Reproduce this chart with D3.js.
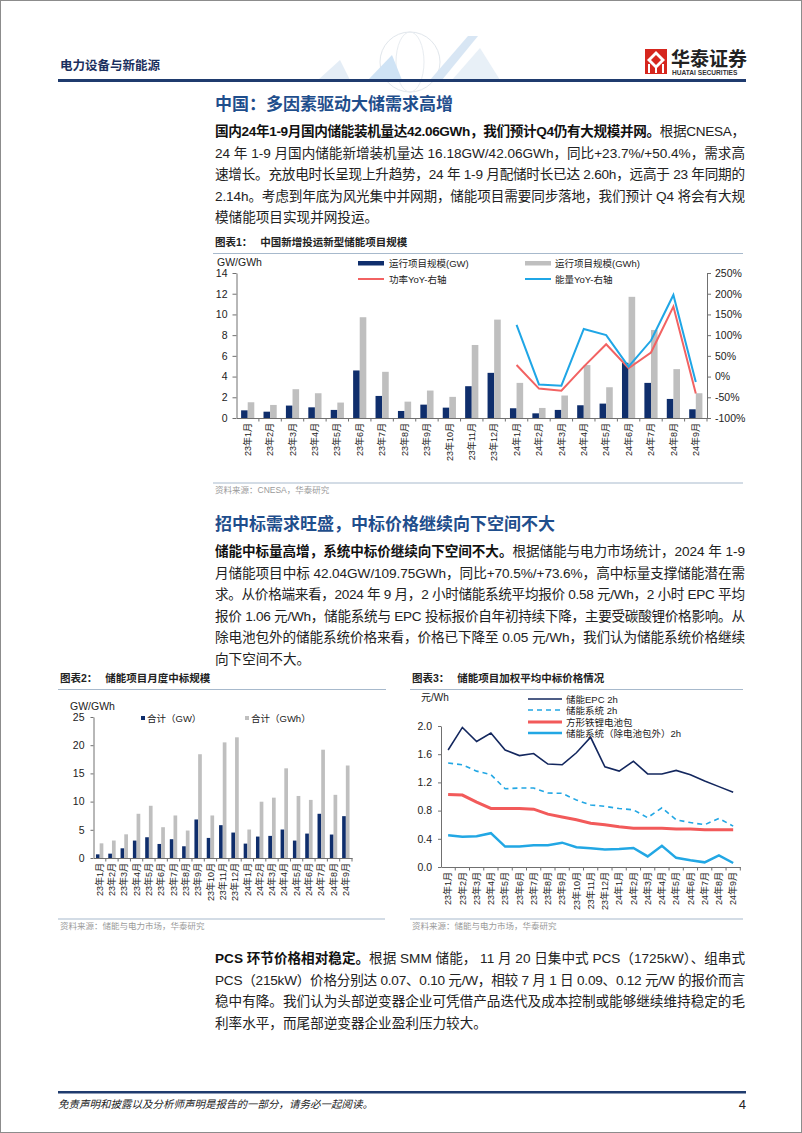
<!DOCTYPE html>
<html><head><meta charset="utf-8">
<script src="https://cdn.jsdelivr.net/npm/d3@7"></script>
<style>
body{margin:0;background:#fff;}
text{font-family:"Liberation Sans","Noto Sans CJK SC",sans-serif;}
</style></head>
<body><svg id="page" width="802" height="1133"></svg>
<script>
// ---------- DATA ----------
const months = ["23年1月","23年2月","23年3月","23年4月","23年5月","23年6月","23年7月","23年8月","23年9月","23年10月","23年11月","23年12月",
                "24年1月","24年2月","24年3月","24年4月","24年5月","24年6月","24年7月","24年8月","24年9月"];
// Chart 1: 中国新增投运新型储能项目规模
const c1PowerGW   = [0.74,0.61,1.20,1.03,0.78,4.59,2.13,0.68,1.29,1.00,3.07,4.36, 0.94,0.45,0.78,1.23,1.39,5.33,3.39,1.84,0.84];
const c1EnergyGWh = [1.52,1.26,2.78,2.39,1.49,9.73,4.46,1.58,2.65,2.04,7.05,9.50, 3.39,0.97,2.17,5.11,2.97,11.70,8.50,4.72,2.39];
const c1PowerYoY  = [null,null,null,null,null,null,null,null,null,null,null,null, 28,-29,-34,24,78,20,58,169,-41];
const c1EnergyYoY = [null,null,null,null,null,null,null,null,null,null,null,null, 125,-19,-22,115,100,24,87,197,-13];
const c1LeftTicks  = [0,2,4,6,8,10,12,14];
const c1RightTicks = [-100,-50,0,50,100,150,200,250];
// Chart 2: 储能项目月度中标规模
const c2GW  = [0.65,0.77,1.72,3.09,3.68,2.49,3.33,2.08,6.83,3.56,5.82,4.51, 2.55,3.80,3.92,5.05,3.09,4.33,7.84,4.16,7.42];
const c2GWh = [2.6,3.1,4.2,7.84,9.26,5.46,7.54,4.87,18.4,7.54,20.5,21.4, 5.05,9.98,10.7,15.9,11.0,10.3,19.2,11.2,16.4];
const c2Ticks = [0,5,10,15,20,25];
// Chart 3: 储能项目加权平均中标价格情况
const c3EPC     = [1.66,1.98,1.78,1.90,1.66,1.58,1.61,1.46,1.45,1.62,1.84,1.42, 1.36,1.50,1.32,1.32,1.37,1.31,1.22,1.14,1.06];
const c3System  = [1.475,1.45,1.36,1.31,1.11,1.12,1.12,1.05,1.045,0.95,0.88,0.86, 0.83,0.81,0.70,0.84,0.67,0.63,0.60,0.69,0.58];
const c3Pack    = [1.03,1.02,0.92,0.83,0.83,0.83,0.82,0.75,0.71,0.67,0.62,0.60, 0.57,0.55,0.55,0.55,0.54,0.54,0.53,0.53,0.53];
const c3SysExPk = [0.45,0.43,0.435,0.48,0.29,0.29,0.31,0.31,0.345,0.28,0.265,0.25, 0.255,0.27,0.15,0.30,0.13,0.095,0.066,0.165,0.057];
const c3Ticks = [0,0.4,0.8,1.2,1.6,2.0];

// ---------- PAGE ----------
const svg = d3.select("#page");
svg.append("rect").attr("width",802).attr("height",1133).attr("fill","#fff");
svg.append("rect").attr("x",0.5).attr("y",0.5).attr("width",801).attr("height",1132).attr("fill","none").attr("stroke","#8c8c8c");

const NAVY = "#0f2e6c", GRAY = "#bfbfbf", RED = "#f26262", BLUE = "#1fa6e6", HEAD = "#1f4e8c";

// header decoration (faint globe & stripes)
const deco = svg.append("g").attr("opacity",0.55);
deco.append("circle").attr("cx",410).attr("cy",62).attr("r",30).attr("fill","none").attr("stroke","#c9d3dd").attr("stroke-width",1);
deco.append("ellipse").attr("cx",410).attr("cy",62).attr("rx",14).attr("ry",30).attr("fill","none").attr("stroke","#d5dde5");
deco.append("path").attr("d","M430,80 L468,36 L478,36 L442,80 Z").attr("fill","#b9d3ec");
deco.append("path").attr("d","M452,80 L480,48 L500,80 Z").attr("fill","#d6e4f2");
deco.append("path").attr("d","M318,80 L340,60 L350,80 Z").attr("fill","#cfe0f0");
deco.append("path").attr("d","M368,80 L392,55 L402,80 Z").attr("fill","#a9cdee");

svg.append("text").attr("x",60).attr("y",70).attr("font-size",12.5).attr("font-weight","bold").attr("fill","#1b2f5e").text("电力设备与新能源");
// logo
const logo = svg.append("g");
logo.append("rect").attr("x",645).attr("y",49).attr("width",22).attr("height",25).attr("fill","#d6261e");
logo.append("path").attr("d","M656,51 L665,60 L656,69 L647,60 Z").attr("fill","#fff");
logo.append("path").attr("d","M656,55 L661,60 L656,65 L651,60 Z").attr("fill","#d6261e");
logo.append("rect").attr("x",648).attr("y",64).attr("width",2).attr("height",9).attr("fill","#fff");
logo.append("rect").attr("x",662).attr("y",64).attr("width",2).attr("height",9).attr("fill","#fff");
logo.append("rect").attr("x",655).attr("y",67).attr("width",2).attr("height",6).attr("fill","#fff");
svg.append("text").attr("x",671).attr("y",66).attr("font-size",19).attr("font-weight","bold").attr("fill","#222").text("华泰证券");
svg.append("text").attr("x",672).attr("y",75).attr("font-size",6.6).attr("font-weight","bold").attr("fill","#333").text("HUATAI SECURITIES");
svg.append("rect").attr("x",58).attr("y",79).attr("width",688).attr("height",3).attr("fill","#1f3b6e");

// footer
svg.append("rect").attr("x",58).attr("y",1091).attr("width",688).attr("height",2.5).attr("fill","#1f3b6e");
svg.append("text").attr("x",58).attr("y",1108).attr("font-size",10.5).attr("font-style","italic").attr("fill","#222").text("免责声明和披露以及分析师声明是报告的一部分，请务必一起阅读。");
svg.append("text").attr("x",746).attr("y",1109).attr("text-anchor","end").attr("font-size",13).attr("fill","#222").text("4");

// ---------- TEXT BLOCKS ----------
function heading(x,y,t){
  svg.append("text").attr("x",x).attr("y",y).attr("font-size",17).attr("font-weight","bold").attr("fill",HEAD).text(t);
}
function para(x,y,lh,lines,width){
  lines.forEach((ln,i)=>{
    const t = svg.append("text").attr("x",x).attr("y",y+i*lh).attr("font-size",13.6).attr("fill","#222");
    if(!ln.last){ t.attr("textLength",width).attr("lengthAdjust","spacing"); }
    if(ln.b) t.append("tspan").attr("font-weight","bold").attr("fill","#111").text(ln.b);
    if(ln.t) t.append("tspan").text(ln.t);
  });
}
heading(215,110,"中国：多因素驱动大储需求高增");
para(215,136,21.6,[
  {b:"国内24年1-9月国内储能装机量达42.06GWh，我们预计Q4仍有大规模并网。",t:"根据CNESA，"},
  {t:"24 年 1-9 月国内储能新增装机量达 16.18GW/42.06GWh，同比+23.7%/+50.4%，需求高"},
  {t:"速增长。充放电时长呈现上升趋势，24 年 1-9 月配储时长已达 2.60h，远高于 23 年同期的"},
  {t:"2.14h。考虑到年底为风光集中并网期，储能项目需要同步落地，我们预计 Q4 将会有大规"},
  {t:"模储能项目实现并网投运。",last:true}
],530);

heading(215,530,"招中标需求旺盛，中标价格继续向下空间不大");
para(215,556,21.6,[
  {b:"储能中标量高增，系统中标价继续向下空间不大。",t:"根据储能与电力市场统计，2024 年 1-9"},
  {t:"月储能项目中标 42.04GW/109.75GWh，同比+70.5%/+73.6%，高中标量支撑储能潜在需"},
  {t:"求。从价格端来看，2024 年 9 月，2 小时储能系统平均报价 0.58 元/Wh，2 小时 EPC 平均"},
  {t:"报价 1.06 元/Wh，储能系统与 EPC 投标报价自年初持续下降，主要受碳酸锂价格影响。从"},
  {t:"除电池包外的储能系统价格来看，价格已下降至 0.05 元/Wh，我们认为储能系统价格继续"},
  {t:"向下空间不大。",last:true}
],530);

para(215,963,21.6,[
  {b:"PCS 环节价格相对稳定。",t:"根据 SMM 储能， 11 月 20 日集中式 PCS（1725kW）、组串式"},
  {t:"PCS（215kW）价格分别达 0.07、0.10 元/W，相较 7 月 1 日 0.09、0.12 元/W 的报价而言"},
  {t:"稳中有降。我们认为头部逆变器企业可凭借产品迭代及成本控制或能够继续维持稳定的毛"},
  {t:"利率水平，而尾部逆变器企业盈利压力较大。",last:true}
],530);

// ---------- helpers ----------
function chartTitle(x,y,x2,label,title){
  const t = svg.append("text").attr("x",x).attr("y",y).attr("font-size",10.5).attr("font-weight","bold").attr("fill","#222");
  t.append("tspan").text(label);
  t.append("tspan").attr("dx",8).text(title);
  svg.append("line").attr("x1",x-2).attr("x2",x2).attr("y1",y+7.5).attr("y2",y+7.5).attr("stroke","#a7b9cc").attr("stroke-width",1);
}
function source(x,y,x2,t){
  svg.append("line").attr("x1",x-2).attr("x2",x2).attr("y1",y-10).attr("y2",y-10).attr("stroke","#a7b9cc").attr("stroke-width",1);
  svg.append("text").attr("x",x).attr("y",y).attr("font-size",8.5).attr("fill","#9a9a9a").text(t);
}
function styleAxis(g){
  g.select(".domain").attr("stroke","#707070");
  g.selectAll(".tick line").attr("stroke","#707070");
  g.selectAll(".tick text").attr("font-size",10.5).attr("fill","#222")
   .attr("font-family","'Liberation Sans',Arial,sans-serif");
}
function xAxis(x,y0){
  const g = svg.append("g").attr("transform",`translate(0,${y0})`)
    .call(d3.axisBottom(x).tickSize(0).tickFormat(""));
  g.select(".domain").attr("stroke","#707070");
  g.selectAll(null).data(x.domain()).join("line")
    .attr("x1",d=>x(d)+x.bandwidth()).attr("x2",d=>x(d)+x.bandwidth()).attr("y1",0).attr("y2",3.5).attr("stroke","#707070");
  svg.append("g").selectAll("text").data(x.domain()).join("text")
    .attr("transform",d=>`translate(${x(d)+x.bandwidth()/2},${y0+5}) rotate(-90)`)
    .attr("text-anchor","end").attr("dy","0.35em").attr("font-size",9).attr("fill","#222").text(d=>d);
}

// ---------- CHART 1 ----------
chartTitle(215,246,743,"图表1：","中国新增投运新型储能项目规模");
{
  const x = d3.scaleBand().domain(months).range([236.5,707]).padding(0);
  const yL = d3.scaleLinear().domain([0,14]).range([418,273]);
  const yR = d3.scaleLinear().domain([-100,250]).range([418,273]);
  const bw = 6.6;
  svg.append("g").selectAll("rect").data(months).join("rect")
    .attr("x",(d,i)=>x(d)+x.bandwidth()/2-bw).attr("width",bw)
    .attr("y",(d,i)=>yL(c1PowerGW[i])).attr("height",(d,i)=>yL(0)-yL(c1PowerGW[i])).attr("fill",NAVY);
  svg.append("g").selectAll("rect").data(months).join("rect")
    .attr("x",(d,i)=>x(d)+x.bandwidth()/2).attr("width",bw)
    .attr("y",(d,i)=>yL(c1EnergyGWh[i])).attr("height",(d,i)=>yL(0)-yL(c1EnergyGWh[i])).attr("fill",GRAY);
  const line = d3.line().defined(d=>d.v!==null).x(d=>x(d.m)+x.bandwidth()/2).y(d=>yR(d.v));
  svg.append("path").datum(months.map((m,i)=>({m,v:c1PowerYoY[i]}))).attr("d",line).attr("fill","none").attr("stroke",RED).attr("stroke-width",2);
  svg.append("path").datum(months.map((m,i)=>({m,v:c1EnergyYoY[i]}))).attr("d",line).attr("fill","none").attr("stroke",BLUE).attr("stroke-width",2);
  const gl = svg.append("g").attr("transform","translate(236.5,0)")
    .call(d3.axisLeft(yL).tickValues(c1LeftTicks).tickSize(4).tickSizeOuter(0).tickPadding(5));
  styleAxis(gl);
  const gr = svg.append("g").attr("transform","translate(707,0)")
    .call(d3.axisRight(yR).tickValues(c1RightTicks).tickSize(4).tickSizeOuter(0).tickPadding(4).tickFormat(d=>d+"%"));
  styleAxis(gr);
  xAxis(x,418);
  svg.append("text").attr("x",217).attr("y",266).attr("font-size",10.5).attr("fill","#222").text("GW/GWh");
  // legend
  const lg = svg.append("g").attr("font-size",9.5).attr("fill","#222");
  lg.append("rect").attr("x",358).attr("y",261).attr("width",26).attr("height",4.5).attr("fill",NAVY);
  lg.append("text").attr("x",389).attr("y",266.5).text("运行项目规模(GW)");
  lg.append("line").attr("x1",358).attr("x2",384).attr("y1",279).attr("y2",279).attr("stroke",RED).attr("stroke-width",2);
  lg.append("text").attr("x",389).attr("y",282.5).text("功率YoY-右轴");
  lg.append("rect").attr("x",525).attr("y",261).attr("width",26).attr("height",4.5).attr("fill",GRAY);
  lg.append("text").attr("x",555).attr("y",266.5).text("运行项目规模(GWh)");
  lg.append("line").attr("x1",525).attr("x2",551).attr("y1",279).attr("y2",279).attr("stroke",BLUE).attr("stroke-width",2);
  lg.append("text").attr("x",555).attr("y",282.5).text("能量YoY-右轴");
}
source(215,493,743,"资料来源：CNESA，华泰研究");

// ---------- CHART 2 ----------
chartTitle(60,682,386,"图表2：","储能项目月度中标规模");
{
  const x = d3.scaleBand().domain(months).range([93.5,352]).padding(0);
  const y = d3.scaleLinear().domain([0,25]).range([858,717]);
  const bw = 3.7;
  svg.append("g").selectAll("rect").data(months).join("rect")
    .attr("x",d=>x(d)+x.bandwidth()/2-bw).attr("width",bw)
    .attr("y",(d,i)=>y(c2GW[i])).attr("height",(d,i)=>y(0)-y(c2GW[i])).attr("fill",NAVY);
  svg.append("g").selectAll("rect").data(months).join("rect")
    .attr("x",d=>x(d)+x.bandwidth()/2).attr("width",bw)
    .attr("y",(d,i)=>y(c2GWh[i])).attr("height",(d,i)=>y(0)-y(c2GWh[i])).attr("fill",GRAY);
  const g = svg.append("g").attr("transform","translate(93.5,0)")
    .call(d3.axisLeft(y).tickValues(c2Ticks).tickSize(3).tickSizeOuter(0).tickPadding(6));
  styleAxis(g);
  xAxis(x,858);
  svg.append("text").attr("x",70).attr("y",710).attr("font-size",10.5).attr("fill","#222").text("GW/GWh");
  const lg = svg.append("g").attr("font-size",9.5).attr("fill","#222");
  lg.append("rect").attr("x",141).attr("y",716).attr("width",4).attr("height",4).attr("fill",NAVY);
  lg.append("text").attr("x",147).attr("y",721.5).text("合计（GW）");
  lg.append("rect").attr("x",245).attr("y",716).attr("width",4).attr("height",4).attr("fill",GRAY);
  lg.append("text").attr("x",251).attr("y",721.5).text("合计（GWh）");
}
source(60,929,385,"资料来源：储能与电力市场，华泰研究");

// ---------- CHART 3 ----------
chartTitle(412,682,743,"图表3：","储能项目加权平均中标价格情况");
{
  const x = d3.scaleBand().domain(months).range([441,740.3]).padding(0);
  const y = d3.scaleLinear().domain([0,2]).range([867,726]);
  const mk = arr => d3.line().x((d,i)=>x(months[i])+x.bandwidth()/2).y(d=>y(d))(arr);
  svg.append("path").attr("d",mk(c3Pack)).attr("fill","none").attr("stroke","#f25a5a").attr("stroke-width",3);
  svg.append("path").attr("d",mk(c3SysExPk)).attr("fill","none").attr("stroke","#22a7e4").attr("stroke-width",2.5);
  svg.append("path").attr("d",mk(c3System)).attr("fill","none").attr("stroke","#22a7e4").attr("stroke-width",1.6).attr("stroke-dasharray","5,4");
  svg.append("path").attr("d",mk(c3EPC)).attr("fill","none").attr("stroke","#13275e").attr("stroke-width",1.6);
  const g = svg.append("g").attr("transform","translate(441,0)")
    .call(d3.axisLeft(y).tickValues(c3Ticks).tickSize(3).tickSizeOuter(0).tickPadding(6).tickFormat(d3.format(".1f")));
  styleAxis(g);
  xAxis(x,867);
  svg.append("text").attr("x",421).attr("y",701).attr("font-size",10).attr("fill","#222").text("元/Wh");
  const items = [
    {t:"储能EPC 2h", c:"#13275e", w:1.6, dash:null, y:699},
    {t:"储能系统 2h", c:"#22a7e4", w:1.6, dash:"5,4", y:710},
    {t:"方形铁锂电池包", c:"#f25a5a", w:3, dash:null, y:722},
    {t:"储能系统（除电池包外）2h", c:"#22a7e4", w:2.5, dash:null, y:733}
  ];
  const lg = svg.append("g");
  items.forEach(it=>{
    const l = lg.append("line").attr("x1",528).attr("x2",562).attr("y1",it.y).attr("y2",it.y).attr("stroke",it.c).attr("stroke-width",it.w);
    if(it.dash) l.attr("stroke-dasharray",it.dash);
    lg.append("text").attr("x",566).attr("y",it.y+3.5).attr("font-size",9.5).attr("fill","#222").text(it.t);
  });
}
source(412,929,743,"资料来源：储能与电力市场，华泰研究");
</script>
</body></html>
